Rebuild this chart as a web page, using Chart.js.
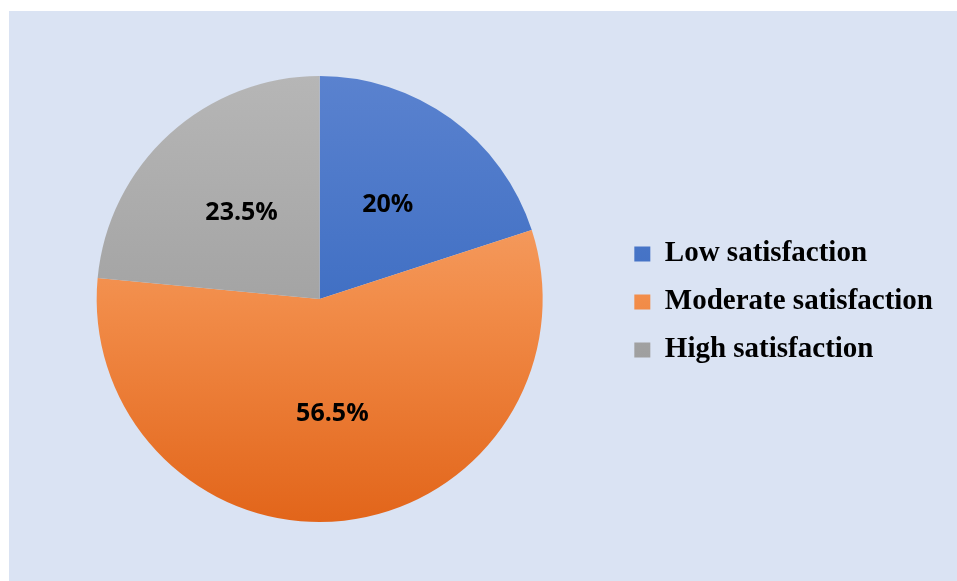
<!DOCTYPE html>
<html>
<head>
<meta charset="utf-8">
<script src="https://cdn.jsdelivr.net/npm/chart.js@4"></script>
<style>
    html, body { margin: 0; padding: 0; background: #ffffff; }
    #wrap {
        position: absolute;
        left: 9px; top: 11px;
        width: 948px; height: 570px;
        background: #dae3f3;
    }
</style>
</head>
<body>
<div id="wrap"><canvas id="pieChart" width="948" height="570"></canvas></div>
<script>
// ── Chart data ──
const categories = ['Low satisfaction', 'Moderate satisfaction', 'High satisfaction'];
const shares = [20, 56.5, 23.5];
const shareLabels = ['20%', '56.5%', '23.5%'];

// light -> base -> dark, top to bottom of the pie
const sliceShades = [
    ['#5a82cf', '#4170c4', '#2f5db8'],
    ['#f7b282', '#f28d4a', '#e2651a'],
    ['#b6b6b6', '#a4a4a4', '#929292']
];

// ── Vertical gradient per slice, spanning the pie ──
function sliceFill(context) {
    const chart = context.chart;
    const area = chart.chartArea;
    const s = sliceShades[context.dataIndex];
    if (!area || !isFinite(area.top) || !isFinite(area.bottom)) return s[1];
    const cy = (area.top + area.bottom) / 2;
    const r = Math.min(area.right - area.left, area.bottom - area.top) / 2;
    if (!(r > 0)) return s[1];
    const g = chart.ctx.createLinearGradient(0, cy - r, 0, cy + r);
    g.addColorStop(0, s[0]);
    g.addColorStop(0.5, s[1]);
    g.addColorStop(1, s[2]);
    return g;
}

// ── Percent labels inside slices ──
const sliceLabels = {
    id: 'sliceLabels',
    afterDatasetsDraw(chart) {
        const ctx = chart.ctx;
        const meta = chart.getDatasetMeta(0);
        ctx.save();
        ctx.font = "bold 25px 'Open Sans', sans-serif";
        ctx.fillStyle = '#000000';
        ctx.textAlign = 'center';
        ctx.textBaseline = 'middle';
        meta.data.forEach((arc, i) => {
            const mid = (arc.startAngle + arc.endAngle) / 2;
            const rr = arc.outerRadius * 0.52;
            ctx.fillText(shareLabels[i], arc.x + Math.cos(mid) * rr, arc.y + Math.sin(mid) * rr);
        });
        ctx.restore();
    }
};

new Chart(document.getElementById('pieChart'), {
    type: 'pie',
    data: {
        labels: categories,
        datasets: [{
            data: shares,
            backgroundColor: sliceFill,
            borderWidth: 0
        }]
    },
    options: {
        responsive: false,
        animation: false,
        layout: { padding: { top: 65, bottom: 59, left: 15, right: 14 } },
        plugins: {
            legend: {
                position: 'right',
                align: 'center',
                // blank title only nudges the entries down a little
                title: { display: true, text: ' ', padding: 0, font: { size: 6, lineHeight: 1 } },
                labels: {
                    boxWidth: 16,
                    boxHeight: 15,
                    padding: 19,
                    color: '#000000',
                    font: { size: 29, weight: 'bold', family: "'Liberation Serif', 'Times New Roman', serif" }
                }
            },
            tooltip: { enabled: false }
        }
    },
    plugins: [sliceLabels]
});
</script>
</body>
</html>
